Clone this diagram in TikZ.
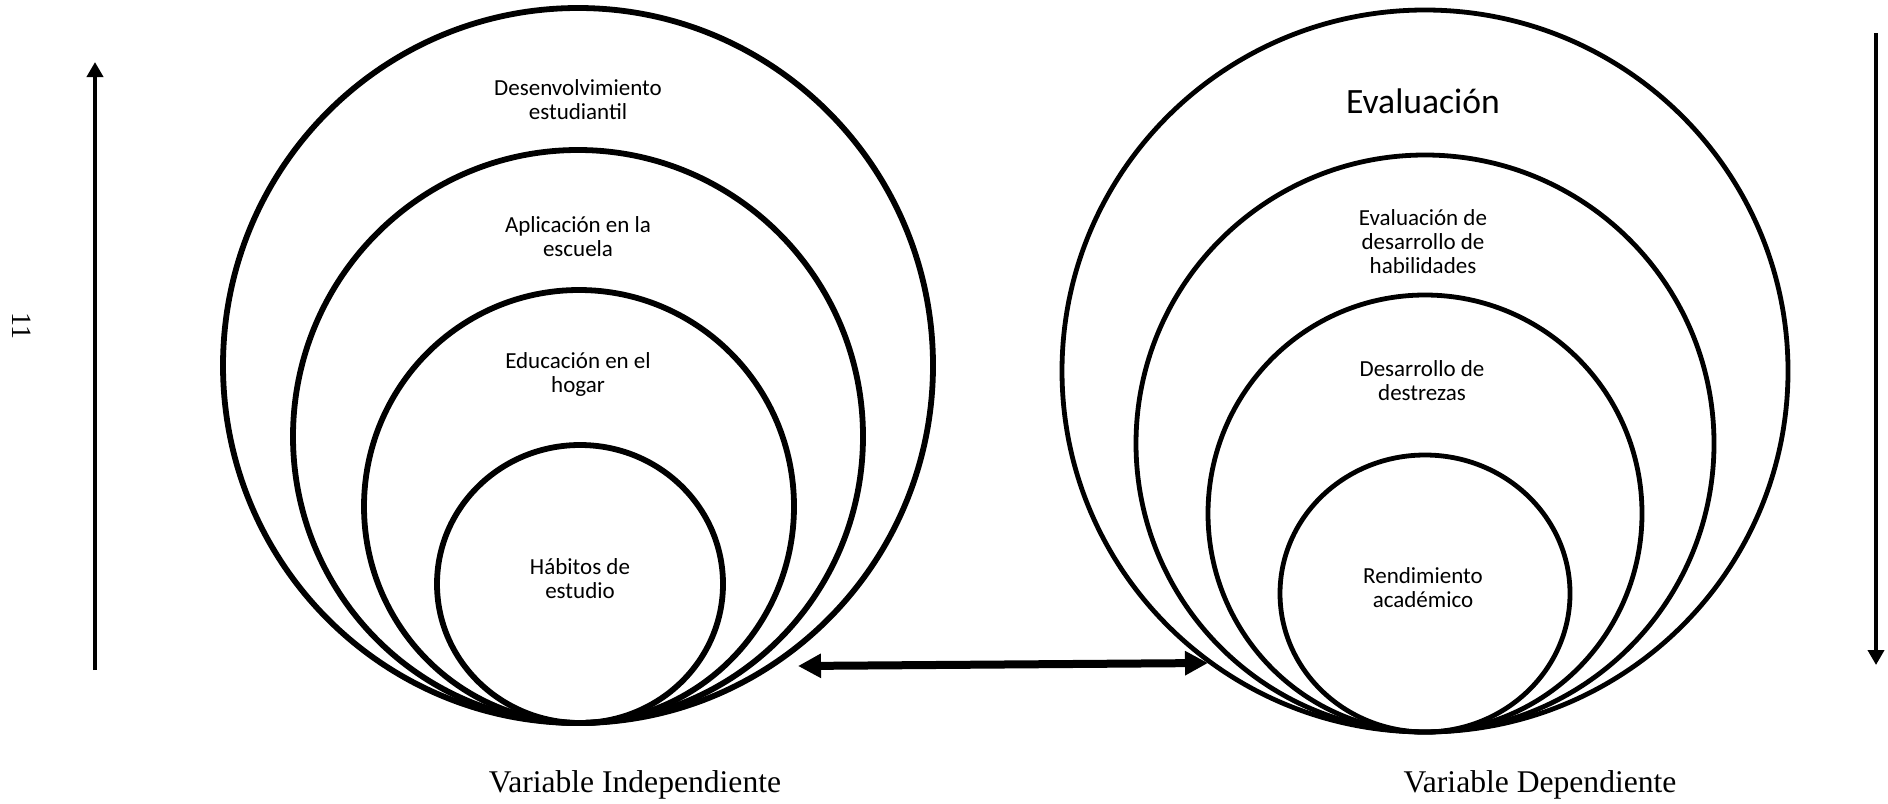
\documentclass[tikz,border=0pt]{standalone}
\usepackage{fontspec}
\setmainfont{Liberation Serif}
\newfontfamily\ringfont{Carlito}
\usetikzlibrary{arrows.meta,shapes.geometric}

\begin{document}
\begin{tikzpicture}[x=0.5pt, y=-0.5pt,
    ring/.style={ellipse, draw=black, line width=#1, inner sep=0pt},
    ring/.default=2.9pt,
    ringtext/.style={align=center, font=\ringfont\fontsize{11.5}{12}\selectfont},
    varlabel/.style={anchor=base, font=\fontsize{15.8}{18}\selectfont},
    sidearrow/.style={-{Triangle[length=7.5pt, width=8pt]}, line width=2pt},
    linkarrow/.style={{Triangle[length=11.5pt, width=11.5pt]}-{Triangle[length=11.5pt, width=11.5pt]}, line width=4pt}]

    \useasboundingbox (0,0) rectangle (1888,803);

    % variable independiente
    \node[ring, minimum width=355pt, minimum height=357.5pt] (L1) at (578,365.5) {};
    \node[ring, minimum width=285pt, minimum height=286.5pt] (L2) at (578,436.5) {};
    \node[ring, minimum width=215pt, minimum height=216.5pt] (L3) at (579,506.5) {};
    \node[ring, minimum width=143pt, minimum height=139pt] (L4) at (580,584) {};

    \node[ringtext] (tL1) at (578,100) {Desenvolvimiento\\estudiantil};
    \node[ringtext] (tL2) at (578,237) {Aplicación en la\\escuela};
    \node[ringtext] (tL3) at (578,374) {Educación en el\\hogar};
    \node[ringtext] (tL4) at (580,579) {Hábitos de\\estudio};

    % variable dependiente
    \node[ring=2.4pt, minimum width=363pt, minimum height=361pt] (R1) at (1425,371) {};
    \node[ring=2.4pt, minimum width=289pt, minimum height=288.5pt] (R2) at (1425,443.5) {};
    \node[ring=2.4pt, minimum width=217pt, minimum height=218.5pt] (R3) at (1425,513.5) {};
    \node[ring=2.4pt, minimum width=145pt, minimum height=138.5pt] (R4) at (1425,593.5) {};

    \node[font=\ringfont\fontsize{17.8}{20}\selectfont] (tR1) at (1423,101) {Evaluación};
    \node[ringtext] (tR2) at (1423,242) {Evaluación de\\desarrollo de\\habilidades};
    \node[ringtext] (tR3) at (1422,381) {Desarrollo de\\destrezas};
    \node[ringtext] (tR4) at (1423,588) {Rendimiento\\académico};

    \node[varlabel] (varI) at (635,792) {Variable Independiente};
    \node[varlabel] (varD) at (1540,792) {Variable Dependiente};
    \node[rotate=-90, font=\fontsize{14}{16}\selectfont] (pagenum) at (22,326) {11};

    % flechas
    \coordinate (upS) at (95,670);
    \coordinate (upE) at (95,62);
    \coordinate (downS) at (1876,33);
    \coordinate (downE) at (1876,665);
    \coordinate (linkL) at (798,666);
    \coordinate (linkR) at (1208,663);

    \draw[sidearrow] (upS) -- (upE);
    \draw[sidearrow] (downS) -- (downE);
    \draw[linkarrow] (linkL) -- (linkR);
\end{tikzpicture}
\end{document}
